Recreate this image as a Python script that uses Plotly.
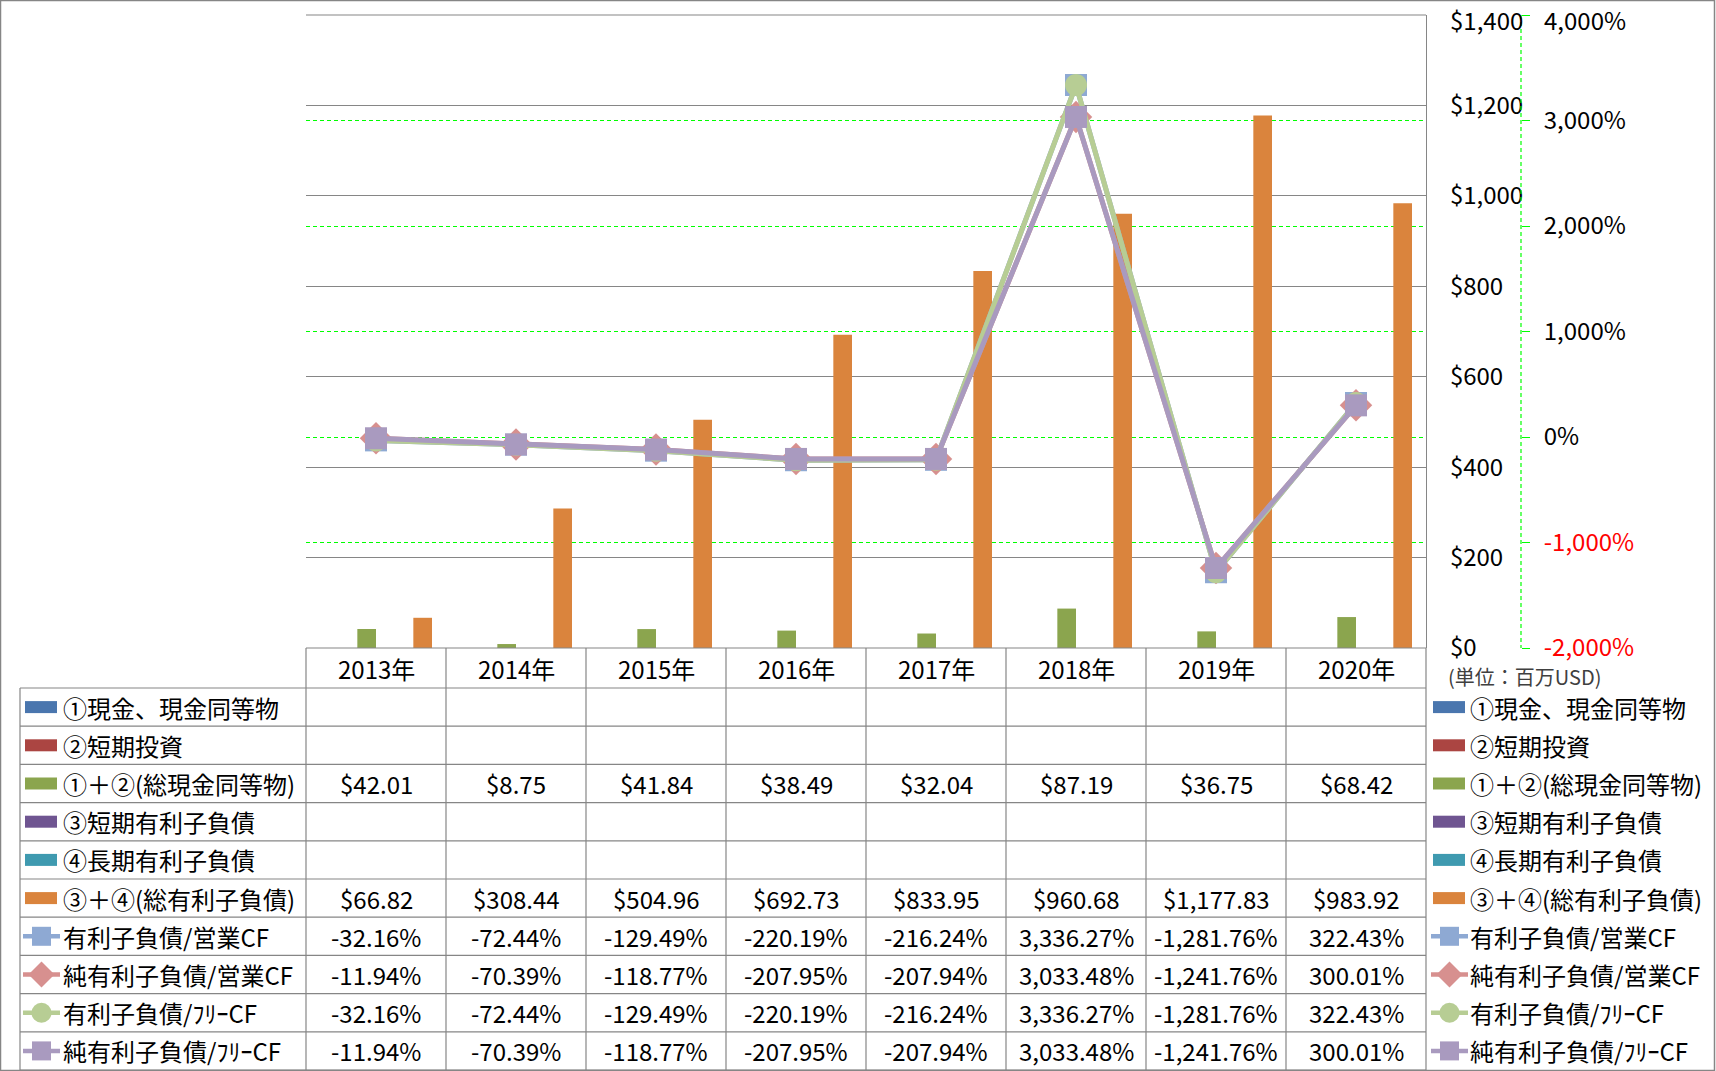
import plotly.graph_objects as go

# ---------------- data ----------------
years = ["2013年", "2014年", "2015年", "2016年", "2017年", "2018年", "2019年", "2020年"]
cash = [None] * 8                      # ①現金、現金同等物
short_inv = [None] * 8                 # ②短期投資
cash_total = [42.01, 8.75, 41.84, 38.49, 32.04, 87.19, 36.75, 68.42]          # ①+②
short_debt = [None] * 8                # ③短期有利子負債
long_debt = [None] * 8                 # ④長期有利子負債
debt_total = [66.82, 308.44, 504.96, 692.73, 833.95, 960.68, 1177.83, 983.92]  # ③+④
debt_ocf = [-32.16, -72.44, -129.49, -220.19, -216.24, 3336.27, -1281.76, 322.43]
net_debt_ocf = [-11.94, -70.39, -118.77, -207.95, -207.94, 3033.48, -1241.76, 300.01]
debt_fcf = [-32.16, -72.44, -129.49, -220.19, -216.24, 3336.27, -1281.76, 322.43]
net_debt_fcf = [-11.94, -70.39, -118.77, -207.95, -207.94, 3033.48, -1241.76, 300.01]

usd_ticks = [0, 200, 400, 600, 800, 1000, 1200, 1400]
pct_ticks = [-2000, -1000, 0, 1000, 2000, 3000, 4000]

bar_names = ["①現金、現金同等物", "②短期投資", "①＋②(総現金同等物)",
             "③短期有利子負債", "④長期有利子負債", "③＋④(総有利子負債)"]
bar_values = [cash, short_inv, cash_total, short_debt, long_debt, debt_total]
bar_colors = ["#4A76AE", "#AB4542", "#8BA54E", "#6F5591", "#3F9AB0", "#DA843D"]

line_names = ["有利子負債/営業CF", "純有利子負債/営業CF", "有利子負債/ﾌﾘｰCF", "純有利子負債/ﾌﾘｰCF"]
line_values = [debt_ocf, net_debt_ocf, debt_fcf, net_debt_fcf]
line_colors = ["#8EA9D3", "#D7908F", "#B7CD94", "#A99ABF"]
line_symbols = ["square", "diamond", "circle", "square"]
line_msize = [22, 25, 22, 22]

# ---------------- geometry ----------------
W, H = 1716, 1071
PL, PR, PT, PB = 306, 1426, 15, 648
TBL_L = 20
HDR_B = 688
ROW_H = (1070 - HDR_B) / 10.0
FONT = "Noto Sans CJK JP"
GRAY = "#868686"
Y1_LABEL_X = 1450
Y2_AXIS_X = 1521
Y2_LABEL_X = 1544


def xp(px):
    return px / W


def yp(py):
    return 1 - py / H


fig = go.Figure()

# bars (6 clustered series, only two with data)
nser = len(bar_values)
gap = 0.2
slot = (1 - gap) / nser
for i, (name, vals, col) in enumerate(zip(bar_names, bar_values, bar_colors)):
    fig.add_trace(go.Bar(
        x=years, y=vals, name=name, marker=dict(color=col, line=dict(width=0)),
        width=slot, offset=-(1 - gap) / 2 + i * slot, showlegend=False,
        yaxis="y", xaxis="x"))

# lines on secondary axis
for name, vals, col, sym, ms in zip(line_names, line_values, line_colors, line_symbols, line_msize):
    fig.add_trace(go.Scatter(
        x=years, y=vals, name=name, mode="lines+markers",
        line=dict(color=col, width=5),
        marker=dict(symbol=sym, size=ms, color=col, line=dict(width=0)),
        yaxis="y2", xaxis="x", showlegend=False))

shapes = []
annotations = []

# outer border
shapes.append(dict(type="rect", xref="paper", yref="paper", x0=xp(0.5), x1=xp(W - 1.5),
                   y0=yp(0.5), y1=yp(H - 0.5), line=dict(color=GRAY, width=1.5)))
# right axis dashed green line
shapes.append(dict(type="line", xref="paper", yref="paper", x0=xp(Y2_AXIS_X), x1=xp(Y2_AXIS_X),
                   y0=yp(PT), y1=yp(PB), line=dict(color="#00FF00", width=1.2, dash="4px,3px")))
# top gridline
shapes.append(dict(type="line", xref="paper", yref="paper", x0=xp(PL), x1=xp(PR),
                   y0=yp(PT), y1=yp(PT), line=dict(color=GRAY, width=1.2)))

# table lines
shapes.append(dict(type="line", xref="paper", yref="paper", x0=xp(PL), x1=xp(PR),
                   y0=yp(PB), y1=yp(PB), line=dict(color=GRAY, width=1.2)))
for r in range(11):
    yy = HDR_B + r * ROW_H
    shapes.append(dict(type="line", xref="paper", yref="paper", x0=xp(TBL_L), x1=xp(PR),
                       y0=yp(yy), y1=yp(yy), line=dict(color=GRAY, width=1.2)))
shapes.append(dict(type="line", xref="paper", yref="paper", x0=xp(TBL_L), x1=xp(TBL_L),
                   y0=yp(HDR_B), y1=yp(1070), line=dict(color=GRAY, width=1.2)))
colw = (PR - PL) / len(years)
for k in range(len(years) + 1):
    xx = PL + k * colw
    shapes.append(dict(type="line", xref="paper", yref="paper", x0=xp(xx), x1=xp(xx),
                       y0=yp(PB), y1=yp(1070), line=dict(color=GRAY, width=1.2)))

# year header
for j, yr in enumerate(years):
    annotations.append(dict(x=yr, xref="x", y=yp((PB + HDR_B) / 2), yref="paper", text=yr,
                            showarrow=False, xanchor="center", yanchor="middle",
                            font=dict(family=FONT, size=24, color="#000")))


def usd(v):
    return "" if v is None else "${:,.2f}".format(v)


def pct(v):
    return "" if v is None else "{:,.2f}%".format(v)


all_names = bar_names + line_names
all_vals = bar_values + line_values
fmts = [usd] * 6 + [pct] * 4


def legend_key(x_sw, r, yc):
    if r < 6:
        shapes.append(dict(type="rect", xref="paper", yref="paper", x0=xp(x_sw), x1=xp(x_sw + 32),
                           y0=yp(yc - 6), y1=yp(yc + 6), line=dict(width=0),
                           fillcolor=bar_colors[r]))
    else:
        li = r - 6
        col = line_colors[li]
        shapes.append(dict(type="line", xref="paper", yref="paper", x0=xp(x_sw - 2), x1=xp(x_sw + 35),
                           y0=yp(yc), y1=yp(yc), line=dict(color=col, width=4.5)))
        cx = x_sw + 16.5
        sym = line_symbols[li]
        if sym == "square":
            shapes.append(dict(type="rect", xref="paper", yref="paper", x0=xp(cx - 9.5), x1=xp(cx + 9.5),
                               y0=yp(yc - 9.5), y1=yp(yc + 9.5), line=dict(width=0), fillcolor=col))
        elif sym == "circle":
            shapes.append(dict(type="circle", xref="paper", yref="paper", x0=xp(cx - 10), x1=xp(cx + 10),
                               y0=yp(yc - 10), y1=yp(yc + 10), line=dict(width=0), fillcolor=col))
        else:
            d = 13
            path = "M {},{} L {},{} L {},{} L {},{} Z".format(
                xp(cx), yp(yc - d), xp(cx + d), yp(yc), xp(cx), yp(yc + d), xp(cx - d), yp(yc))
            shapes.append(dict(type="path", xref="paper", yref="paper", path=path,
                               line=dict(width=0), fillcolor=col))


for r, (name, vals, f) in enumerate(zip(all_names, all_vals, fmts)):
    yc = HDR_B + (r + 0.5) * ROW_H
    legend_key(25, r, yc)
    annotations.append(dict(x=xp(61), xref="paper", y=yp(yc), yref="paper", text=name,
                            showarrow=False, xanchor="left", yanchor="middle",
                            font=dict(family=FONT, size=24, color="#000")))
    legend_key(1433, r, yc)
    annotations.append(dict(x=xp(1468), xref="paper", y=yp(yc), yref="paper", text=name,
                            showarrow=False, xanchor="left", yanchor="middle",
                            font=dict(family=FONT, size=24, color="#000")))
    for j, yr in enumerate(years):
        t = f(vals[j])
        if t:
            annotations.append(dict(x=yr, xref="x", y=yp(yc), yref="paper", text=t,
                                    showarrow=False, xanchor="center", yanchor="middle",
                                    font=dict(family=FONT, size=24, color="#000")))

annotations.append(dict(x=xp(1446), xref="paper", y=yp(676), yref="paper", text="(単位：百万USD)",
                        showarrow=False, xanchor="left", yanchor="middle",
                        font=dict(family=FONT, size=20, color="#404040")))

# axis tick labels: top-most labels placed as annotations (a little lower so they stay inside)
usd_text = ["${:,}".format(v) for v in usd_ticks]
pct_text = []
for v in pct_ticks:
    s = "{:,}%".format(v)
    if v < 0:
        s = '<span style="color:#FF0000">' + s + '</span>'
    pct_text.append(s)

annotations.append(dict(x=xp(Y1_LABEL_X - 2), xref="paper", y=yp(PT + 4), yref="paper",
                        text=usd_text[-1], showarrow=False, xanchor="left", yanchor="middle",
                        font=dict(family=FONT, size=24, color="#000")))
annotations.append(dict(x=xp(Y2_LABEL_X - 2), xref="paper", y=yp(PT + 4), yref="paper",
                        text=pct_text[-1], showarrow=False, xanchor="left", yanchor="middle",
                        font=dict(family=FONT, size=24, color="#000")))

fig.update_layout(
    width=W, height=H, autosize=False, margin=dict(l=0, r=0, t=0, b=0, pad=0),
    paper_bgcolor="white", plot_bgcolor="rgba(0,0,0,0)",
    barmode="group", bargap=gap, bargroupgap=0,
    showlegend=False,
    font=dict(family=FONT, size=24, color="#000"),
    xaxis=dict(domain=[xp(PL), xp(PR)], range=[-0.5, len(years) - 0.5], type="category",
               showticklabels=False, showgrid=False, showline=False, ticks="", zeroline=False,
               automargin=False),
    yaxis=dict(domain=[yp(PB), yp(PT)], range=[0, 1400], tickvals=usd_ticks,
               ticktext=usd_text[:-1] + [""],
               side="right", showline=True, linecolor=GRAY, linewidth=1.2,
               showgrid=True, gridcolor=GRAY, gridwidth=1.2, zeroline=False, ticks="",
               ticklabelstandoff=Y1_LABEL_X - PR - 6, automargin=False, ticklabeloverflow="allow",
               tickfont=dict(family=FONT, size=24, color="#000")),
    yaxis2=dict(overlaying="y", side="right", anchor="free", position=xp(Y2_AXIS_X),
                range=[-2000, 4000], tickvals=pct_ticks, ticktext=pct_text[:-1] + [""],
                showline=False, showgrid=True, gridcolor="#00FF00", gridwidth=1.2,
                griddash="4px,3px", zeroline=False, ticks="outside", ticklen=8,
                tickcolor="#00FF00", tickwidth=1.2, ticklabelstandoff=Y2_LABEL_X - Y2_AXIS_X - 8 - 6,
                automargin=False, ticklabeloverflow="allow",
                tickfont=dict(family=FONT, size=24, color="#000")),
    shapes=shapes, annotations=annotations,
)

fig.write_html("out.html", config={"displayModeBar": False, "responsive": False},
               post_script="document.body.style.margin='0';document.body.style.overflow='hidden';")
